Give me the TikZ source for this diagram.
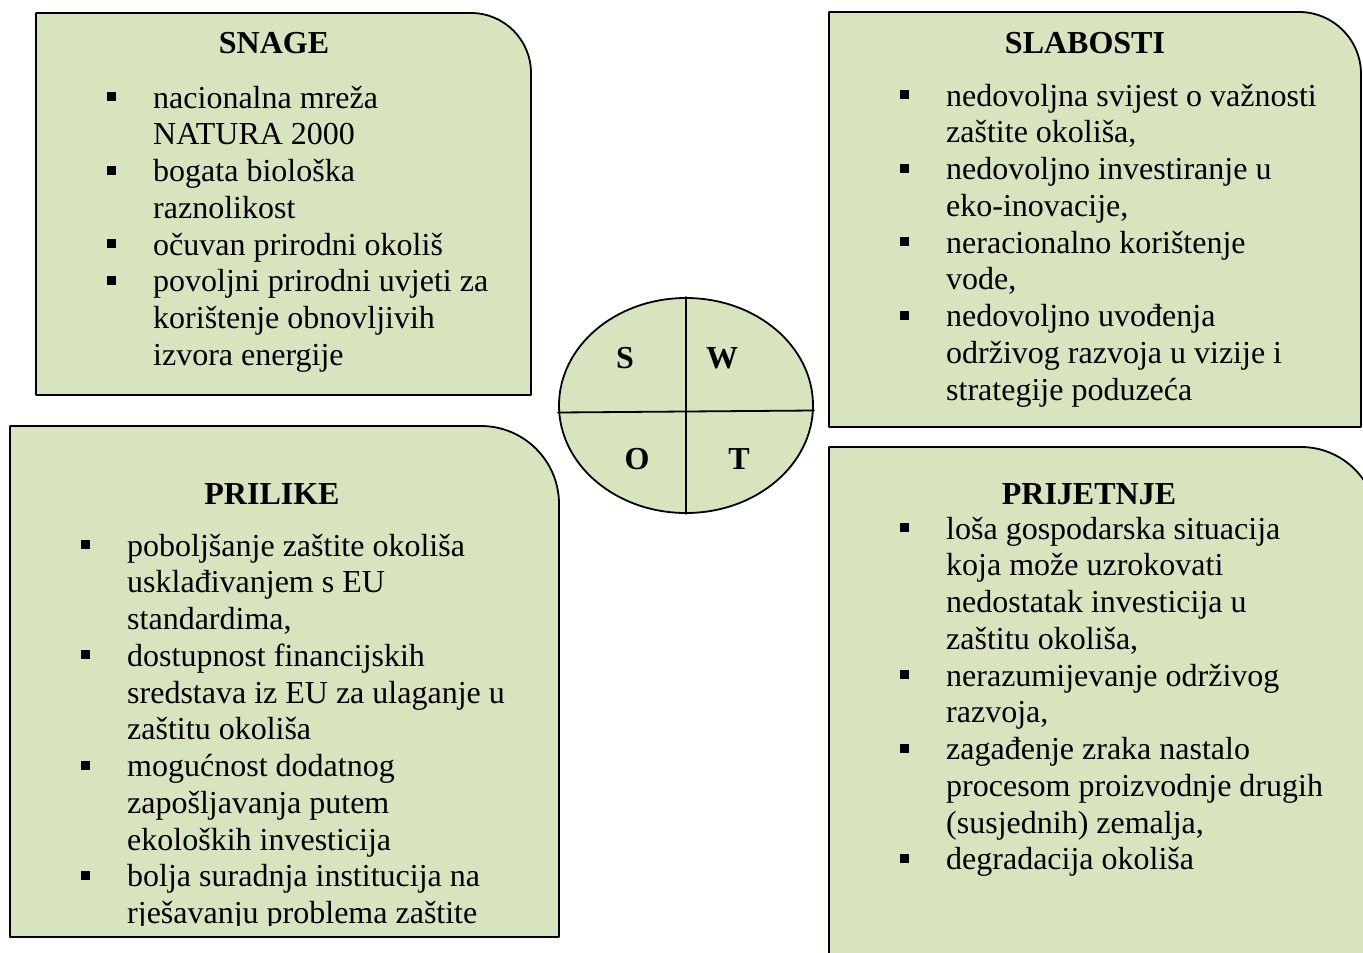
\documentclass[tikz,border=0pt]{standalone}
\usepackage{fontspec}
\setmainfont{Liberation Serif}
\usetikzlibrary{shapes.geometric}
\definecolor{zelena}{HTML}{D7E4BD}
\newcommand\tekst{\fontsize{32}{36.75}\selectfont}
% polje: lijevo, gore, desno, dolje, radijus zaobljenog kuta
\newcommand\polje[5]{\draw[okvir] (#1,#4) -- (#1,#2) -- ({#3-#5},#2) .. controls ({#3-0.448*#5},#2) and (#3,{#2+0.448*#5}) .. (#3,{#2+#5}) -- (#3,#4) -- cycle;}

\begin{document}
\begin{tikzpicture}[x=1pt, y=-1pt, line join=round, line cap=round,
	okvir/.style={draw=black, line width=1.8pt, fill=zelena},
	naslov/.style={anchor=base, inner sep=0pt, font=\tekst\bfseries},
	redak/.style={anchor=base west, inner sep=0pt, font=\tekst},
	slovo/.style={inner sep=0pt, font=\tekst\bfseries}]
	\def\dy{36.75}
	\clip (0,0) rectangle (1363,953);
	\polje{36}{13}{531}{395}{60}
	\polje{829}{12}{1361}{427}{62}
	\polje{10}{426}{559}{937}{78}
	\polje{829}{447}{1377}{990}{76}
	
	% snage
	\node[naslov] (snage) at (274,53.5) {SNAGE};
	\foreach \t [count=\k from 0] in {nacionalna mreža, NATURA 2000, bogata biološka, raznolikost,
		očuvan prirodni okoliš, povoljni prirodni uvjeti za, korištenje obnovljivih, izvora energije}
	\node[redak] (s\k) at (153,108+\dy*\k) {\t};
	\foreach \k in {0,2,4,5} \fill ([xshift=-46pt,yshift=7pt]s\k.base west) rectangle +(9,-9);
	
	% slabosti
	\node[naslov] (slabosti) at (1085,53.5) {SLABOSTI};
	\foreach \t [count=\k from 0] in {nedovoljna svijest o važnosti, {zaštite okoliša,}, nedovoljno investiranje u,
		{eko-inovacije,}, neracionalno korištenje, {vode,}, nedovoljno uvođenja,
		održivog razvoja u vizije i, strategije poduzeća}
	\node[redak] (w\k) at (946,106+\dy*\k) {\t};
	\foreach \k in {0,2,4,6} \fill ([xshift=-46pt,yshift=7pt]w\k.base west) rectangle +(9,-9);
	
	% prilike
	\node[naslov] (prilike) at (272,504) {PRILIKE};
	\begin{scope}
	\clip (10,426) rectangle (559,925);
	\foreach \t [count=\k from 0] in {poboljšanje zaštite okoliša, usklađivanjem s EU, {standardima,},
		dostupnost financijskih, sredstava iz EU za ulaganje u, zaštitu okoliša,
		mogućnost dodatnog, zapošljavanja putem, ekoloških investicija,
		bolja suradnja institucija na, rješavanju problema zaštite}
	\node[redak] (o\k) at (127,556+\dy*\k) {\t};
	\foreach \k in {0,3,6,9} \fill ([xshift=-46pt,yshift=7pt]o\k.base west) rectangle +(9,-9);
	\end{scope}
	
	% prijetnje
	\node[naslov] (prijetnje) at (1089,504) {PRIJETNJE};
	\foreach \t [count=\k from 0] in {loša gospodarska situacija, koja može uzrokovati, nedostatak investicija u,
		{zaštitu okoliša,}, nerazumijevanje održivog, {razvoja,}, zagađenje zraka nastalo,
		procesom proizvodnje drugih, {(susjednih) zemalja,}, degradacija okoliša}
	\node[redak] (t\k) at (946,539+\dy*\k) {\t};
	\foreach \k in {0,4,6,9} \fill ([xshift=-46pt,yshift=7pt]t\k.base west) rectangle +(9,-9);
	
	% swot krug
	\node[okvir, ellipse, minimum width=254pt, minimum height=215pt, inner sep=0pt] (swot) at (686,405.5) {};
	\draw[line width=1.8pt] (swot.north) -- (swot.south);
	\draw[line width=1.8pt] ([yshift=-7pt]swot.west) -- ([yshift=-5pt]swot.east);
	\path 
	(625,358) node[slovo] (ls) {S}
	(722,358) node[slovo] (lw) {W}
	(637,459) node[slovo] (lo) {O}
	(739,459) node[slovo] (lt) {T};
\end{tikzpicture}
\end{document}
